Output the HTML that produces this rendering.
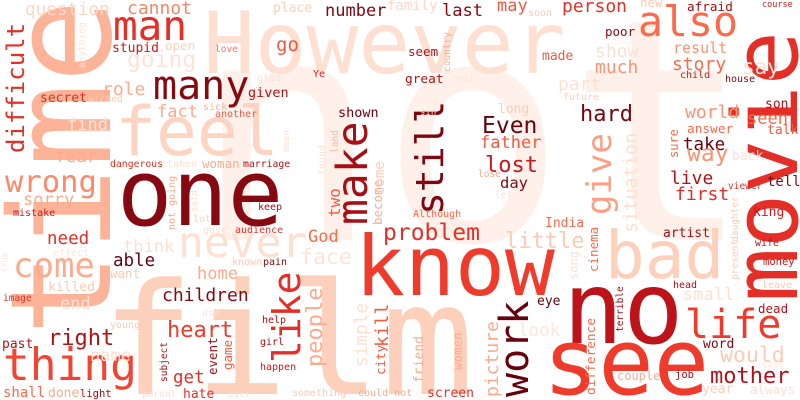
<!DOCTYPE html>
<html><head><meta charset="utf-8"><style>
html,body{margin:0;padding:0;background:#fff;overflow:hidden;width:800px;height:400px;}
svg{display:block;}
text{font-family:"DejaVu Sans Mono","Liberation Mono",monospace;}
</style></head><body>
<svg width="800" height="400" viewBox="0 0 800 400" xmlns="http://www.w3.org/2000/svg">
<rect width="800" height="400" fill="#fff"/>
<text x="193" y="240" font-size="310" fill="#fff0e9">not</text>
<text x="203" y="73" font-size="86" fill="#fee0d2">However</text>
<text transform="translate(110,336) rotate(-90)" font-size="140" fill="#fcb398">time</text>
<text x="101" y="394" font-size="155" fill="#fdd0bc">film</text>
<text x="115" y="155" font-size="68" fill="#fdd4c2">feel</text>
<text transform="translate(797,302) rotate(-90)" font-size="90" fill="#e32f27">movie</text>
<text x="355" y="295" font-size="83" fill="#ef3b2c">know</text>
<text x="563" y="343" font-size="100" fill="#bc141a">no</text>
<text x="543" y="394" font-size="92" fill="#ef3b2c">see</text>
<text x="117" y="225" font-size="92" fill="#860811">one</text>
<text x="605" y="278" font-size="66" fill="#fdd0bc">bad</text>
<text x="3" y="380" font-size="44.5" fill="#f14432">thing</text>
<text x="113" y="40" font-size="41" fill="#e32f27">man</text>
<text x="153" y="99" font-size="40" fill="#860811">many</text>
<text x="638" y="36" font-size="41.5" fill="#fb6a4a">also</text>
<text x="178" y="257" font-size="43" fill="#fee0d2">never</text>
<text x="685" y="338" font-size="40" fill="#ef3b2c">life</text>
<text x="13" y="277" font-size="34" fill="#fcab8f">come</text>
<text x="5" y="192" font-size="30.5" fill="#fc8a6a">wrong</text>
<text transform="translate(367,225) rotate(-90)" font-size="43" fill="#a50f15">make</text>
<text transform="translate(443,215) rotate(-90)" font-size="38" fill="#7f0610">still</text>
<text transform="translate(611,215) rotate(-90)" font-size="34" fill="#fca083">give</text>
<text transform="translate(300,363) rotate(-90)" font-size="38" fill="#e32f27">like</text>
<text transform="translate(528,397) rotate(-90)" font-size="40" fill="#67000d">work</text>
<text transform="translate(24,153) rotate(-90)" font-size="24" fill="#e32f27">difficult</text>
<text transform="translate(637,233) rotate(-90)" font-size="18.5" fill="#fee0d2">situation</text>
<text transform="translate(322,367) rotate(-90)" font-size="22" fill="#fcab8f">people</text>
<text transform="translate(498,397) rotate(-90)" font-size="18" fill="#fcab8f">picture</text>
<text transform="translate(595,395) rotate(-90)" font-size="12.8" fill="#fb6a4a">difference</text>
<text transform="translate(367,367) rotate(-90)" font-size="17.7" fill="#fee0d2">simple</text>
<text transform="translate(388,347) rotate(-90)" font-size="18" fill="#f6583e">kill</text>
<text transform="translate(385,375) rotate(-90)" font-size="12.5" fill="#f6583e">city</text>
<text transform="translate(423,383) rotate(-90)" font-size="13" fill="#fcab8f">friend</text>
<text transform="translate(462,370) rotate(-90)" font-size="12.5" fill="#fcab8f">women</text>
<text transform="translate(623,332) rotate(-90)" font-size="9.5" fill="#a50f15">terrible</text>
<text transform="translate(598,272) rotate(-90)" font-size="12.5" fill="#fb6a4a">cinema</text>
<text transform="translate(578,280) rotate(-90)" font-size="12" fill="#fee0d2">song</text>
<text transform="translate(738,242) rotate(-90)" font-size="9.5" fill="#fdcab5">daughter</text>
<text transform="translate(738,280) rotate(-90)" font-size="9.5" fill="#fdcab5">present</text>
<text transform="translate(340,217) rotate(-90)" font-size="16" fill="#f6583e">two</text>
<text transform="translate(382,225) rotate(-90)" font-size="12.5" fill="#fcab8f">become</text>
<text transform="translate(384,195) rotate(-90)" font-size="14" fill="#fdcab5">come</text>
<text transform="translate(325,175) rotate(-90)" font-size="10" fill="#fee0d2">found</text>
<text transform="translate(338,153) rotate(-90)" font-size="9.5" fill="#fcbba1">land</text>
<text transform="translate(289,152) rotate(-90)" font-size="9" fill="#fee0d2">mean</text>
<text transform="translate(85,68) rotate(-90)" font-size="9.5" fill="#fee3d6">anything</text>
<text transform="translate(450,72) rotate(-90)" font-size="9.5" fill="#fcab8f">country</text>
<text transform="translate(678,158) rotate(-90)" font-size="12" fill="#fb6a4a">sure</text>
<text transform="translate(175,230) rotate(-90)" font-size="10" fill="#fcab8f">not going</text>
<text transform="translate(197,212) rotate(-90)" font-size="9" fill="#fee0d2">said</text>
<text transform="translate(217,375) rotate(-90)" font-size="12.5" fill="#a50f15">event</text>
<text transform="translate(232,370) rotate(-90)" font-size="12.5" fill="#f6583e">game</text>
<text transform="translate(167,382) rotate(-90)" font-size="9.5" fill="#a50f15">subject</text>
<text transform="translate(7,272) rotate(-90)" font-size="8" fill="#fee0d2">true</text>
<g>
<text x="25" y="15" font-size="17.6" fill="#fdd7c6">question</text>
<text x="127" y="14" font-size="18" fill="#f4876b">cannot</text>
<text x="273" y="12" font-size="13" fill="#fdd0bc">place</text>
<text x="325" y="16" font-size="17" fill="#7f0610">number</text>
<text x="387" y="10" font-size="14" fill="#fdd7c6">family</text>
<text x="112" y="52" font-size="13" fill="#cb181d">stupid</text>
<text x="165" y="50" font-size="12.5" fill="#fdd0bc">open</text>
<text x="127" y="67" font-size="23" fill="#fee3d6">going</text>
<text x="215" y="52" font-size="9.5" fill="#f5785a">love</text>
<text x="276" y="51" font-size="19" fill="#f0573f">go</text>
<text x="257" y="81" font-size="10" fill="#fee0d2">glad</text>
<text x="313" y="77" font-size="10" fill="#d52221">Ye</text>
<text x="102" y="95" font-size="18" fill="#fcab8f">role</text>
<text x="248" y="97" font-size="13.5" fill="#b11218">given</text>
<text x="40" y="102" font-size="13" fill="#e0301e">secret</text>
<text x="88" y="102" font-size="9.7" fill="#fdcab5">wicked</text>
<text x="157" y="117" font-size="17" fill="#fcab8f">fact</text>
<text x="203" y="110" font-size="10" fill="#fcb499">sick</text>
<text x="215" y="117" font-size="10" fill="#f6583e">another</text>
<text x="338" y="117" font-size="13.5" fill="#67000d">shown</text>
<text x="67" y="130" font-size="17" fill="#fee6da">find</text>
<text x="55" y="162" font-size="17.5" fill="#fcab8f">fear</text>
<text x="110" y="167" font-size="9.8" fill="#e0301e">dangerous</text>
<text x="167" y="167" font-size="10" fill="#fee0d2">taken</text>
<text x="202" y="168" font-size="12.5" fill="#fcab8f">woman</text>
<text x="243" y="167" font-size="9.8" fill="#b11218">marriage</text>
<text x="442" y="16" font-size="17" fill="#860811">last</text>
<text x="497" y="11" font-size="17" fill="#f6583e">may</text>
<text x="528" y="16" font-size="10" fill="#fdcab5">soon</text>
<text x="562" y="12" font-size="18" fill="#e32f27">person</text>
<text x="640" y="7" font-size="12.5" fill="#fdcab5">new</text>
<text x="687" y="11" font-size="12.7" fill="#a50f15">afraid</text>
<text x="762" y="7" font-size="8.5" fill="#cb181d">course</text>
<text x="408" y="56" font-size="12.5" fill="#b11218">seem</text>
<text x="542" y="60" font-size="13" fill="#f6583e">made</text>
<text x="605" y="36" font-size="12.5" fill="#860811">poor</text>
<text x="617" y="44" font-size="9" fill="#fff0e9">death</text>
<text x="595" y="57" font-size="18" fill="#fee0d2">show</text>
<text x="673" y="53" font-size="15" fill="#fc9272">result</text>
<text x="595" y="73" font-size="18" fill="#fc9272">much</text>
<text x="672" y="70" font-size="18" fill="#fb6a4a">story</text>
<text x="742" y="74" font-size="21" fill="#fee0d2">say</text>
<text x="680" y="78" font-size="10" fill="#cb181d">child</text>
<text x="725" y="82" font-size="10" fill="#860811">house</text>
<text x="405" y="83" font-size="12.8" fill="#b11218">great</text>
<text x="452" y="82" font-size="9.5" fill="#fee6da">real</text>
<text x="558" y="90" font-size="18" fill="#fee0d2">part</text>
<text x="563" y="100" font-size="10" fill="#fdd0bc">future</text>
<text x="420" y="115" font-size="9" fill="#fee0d2">sin</text>
<text x="498" y="113" font-size="13" fill="#fdcab5">long</text>
<text x="580" y="121" font-size="22" fill="#7a0510">hard</text>
<text x="482" y="133" font-size="23" fill="#67000d">Even</text>
<text x="685" y="118" font-size="18" fill="#fc9272">world</text>
<text x="765" y="108" font-size="13" fill="#b11218">son</text>
<text x="747" y="124" font-size="17" fill="#fb6a4a">seen</text>
<text x="687" y="133" font-size="12.8" fill="#fb6a4a">answer</text>
<text x="767" y="134" font-size="13" fill="#f6583e">talk</text>
<text x="480" y="148" font-size="17" fill="#f6583e">father</text>
<text x="683" y="150" font-size="17.5" fill="#67000d">take</text>
<text x="687" y="161" font-size="23" fill="#fc9272">way</text>
<text x="732" y="160" font-size="13" fill="#fee0d2">back</text>
<text x="485" y="172" font-size="22" fill="#cb181d">lost</text>
<text x="478" y="177" font-size="9.5" fill="#fcab8f">lose</text>
<text x="500" y="188" font-size="15.5" fill="#860811">day</text>
<text x="670" y="184" font-size="18" fill="#b11218">live</text>
<text x="675" y="200" font-size="18" fill="#e32f27">first</text>
<text x="767" y="186" font-size="14" fill="#860811">tell</text>
<text x="728" y="189" font-size="9.5" fill="#e32f27">viewer</text>
<text x="495" y="198" font-size="9.5" fill="#fee0d2">let</text>
<text x="23" y="205" font-size="17" fill="#fcab8f">sorry</text>
<text x="13" y="216" font-size="10" fill="#cb181d">mistake</text>
<text x="258" y="210" font-size="10" fill="#a50f15">keep</text>
<text x="193" y="222" font-size="10" fill="#fdd0bc">lot</text>
<text x="203" y="233" font-size="10" fill="#fee0d2">gave</text>
<text x="235" y="233" font-size="10" fill="#e32f27">audience</text>
<text x="308" y="242" font-size="17" fill="#fb6a4a">God</text>
<text x="383" y="240" font-size="23" fill="#e32f27">problem</text>
<text x="47" y="244" font-size="17.5" fill="#e32f27">need</text>
<text x="123" y="252" font-size="17" fill="#fee0d2">think</text>
<text x="300" y="264" font-size="21.5" fill="#fee3d6">face</text>
<text x="113" y="266" font-size="17.5" fill="#67000d">able</text>
<text x="232" y="265" font-size="10" fill="#fdcab5">known</text>
<text x="263" y="265" font-size="10" fill="#860811">pain</text>
<text x="110" y="278" font-size="12.5" fill="#fdcab5">want</text>
<text x="197" y="279" font-size="17" fill="#fcab8f">home</text>
<text x="53" y="256" font-size="10" fill="#fee6da">effect</text>
<text x="48" y="291" font-size="13" fill="#fdcab5">killed</text>
<text x="60" y="309" font-size="17" fill="#fee0d2">end</text>
<text x="3" y="301" font-size="9.5" fill="#e32f27">image</text>
<text x="162" y="301" font-size="18" fill="#860811">children</text>
<text x="167" y="337" font-size="22" fill="#ef3b2c">heart</text>
<text x="262" y="323" font-size="10" fill="#a50f15">help</text>
<text x="202" y="316" font-size="10" fill="#fee0d2">use</text>
<text x="110" y="328" font-size="10" fill="#fdcab5">young</text>
<text x="48" y="345" font-size="22" fill="#b11218">right</text>
<text x="2" y="348" font-size="13" fill="#b11218">past</text>
<text x="260" y="345" font-size="10" fill="#b11218">girl</text>
<text x="90" y="361" font-size="17" fill="#fee0d2">name</text>
<text x="173" y="383" font-size="17.5" fill="#e32f27">get</text>
<text x="260" y="370" font-size="10" fill="#cb181d">happen</text>
<text x="3" y="397" font-size="14" fill="#fb6a4a">shall</text>
<text x="48" y="397" font-size="13" fill="#fcab8f">done</text>
<text x="80" y="397" font-size="10.5" fill="#a50f15">light</text>
<text x="142" y="397" font-size="9.5" fill="#fee0d2">parent</text>
<text x="183" y="398" font-size="13" fill="#e32f27">hate</text>
<text x="228" y="397" font-size="9.5" fill="#fee0d2">ever</text>
<text x="292" y="396" font-size="10" fill="#fdcab5">something</text>
<text x="358" y="396" font-size="10" fill="#fcab8f">could not</text>
<text x="427" y="397" font-size="13" fill="#e32f27">screen</text>
<text x="413" y="217" font-size="10" fill="#fb6a4a">Although</text>
<text x="545" y="227" font-size="13" fill="#fb6a4a">India</text>
<text x="505" y="248" font-size="22" fill="#fdcab5">little</text>
<text x="663" y="237" font-size="13" fill="#a50f15">artist</text>
<text x="753" y="216" font-size="13" fill="#cb181d">king</text>
<text x="755" y="246" font-size="10" fill="#b11218">wife</text>
<text x="763" y="265" font-size="10.5" fill="#cb181d">money</text>
<text x="762" y="288" font-size="10" fill="#fdcab5">leave</text>
<text x="673" y="288" font-size="10" fill="#a50f15">head</text>
<text x="683" y="300" font-size="17" fill="#fee0d2">small</text>
<text x="537" y="305" font-size="13" fill="#67000d">eye</text>
<text x="758" y="313" font-size="12.5" fill="#b11218">dead</text>
<text x="518" y="336" font-size="17.5" fill="#fee6da">look</text>
<text x="703" y="348" font-size="13" fill="#860811">word</text>
<text x="720" y="362" font-size="21.5" fill="#fdcab5">would</text>
<text x="762" y="367" font-size="9" fill="#fee6da">case</text>
<text x="710" y="383" font-size="22" fill="#b11218">mother</text>
<text x="617" y="380" font-size="12" fill="#fcab8f">couple</text>
<text x="675" y="378" font-size="10.5" fill="#a50f15">job</text>
<text x="702" y="393" font-size="13" fill="#fdd0bc">year</text>
<text x="750" y="394" font-size="12.5" fill="#fee0d2">always</text>
</g>
</svg>
</body></html>
